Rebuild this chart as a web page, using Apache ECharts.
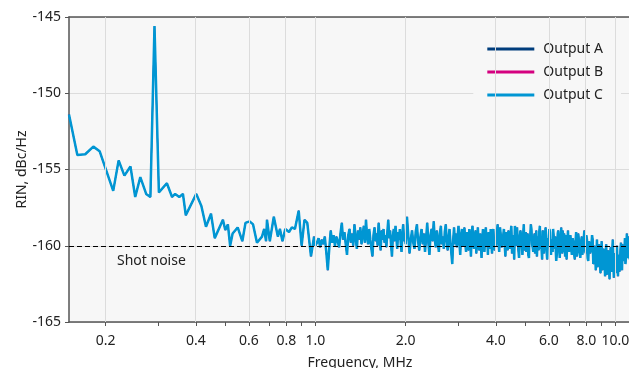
<!DOCTYPE html>
<html>
<head>
<meta charset="utf-8">
<script src="https://cdn.jsdelivr.net/npm/echarts@6/dist/echarts.min.js"></script>
<style>
  html, body { margin: 0; padding: 0; background: #fff; }
  #chart { width: 629px; height: 368px; }
</style>
</head>
<body>
<div id="chart"></div>
<script>
// frequency in MHz, RIN in dBc/Hz
const freqLow = [0.151, 0.161, 0.171, 0.182, 0.191, 0.212, 0.221, 0.231, 0.242, 0.251, 0.261, 0.273, 0.282, 0.291, 0.301, 0.320, 0.333, 0.341, 0.352, 0.362, 0.370, 0.401, 0.417, 0.432, 0.449, 0.462, 0.492, 0.501, 0.511, 0.520, 0.530, 0.551, 0.571, 0.585, 0.604, 0.620, 0.639, 0.664, 0.675, 0.685, 0.690, 0.705, 0.727, 0.750, 0.762, 0.777, 0.794, 0.817, 0.835, 0.855, 0.880, 0.900, 0.920, 0.940, 0.967, 0.990, 1.000];
const rinLow = [-151.4, -154.05, -154.0, -153.5, -153.8, -156.4, -154.4, -155.4, -154.8, -156.8, -155.5, -156.6, -156.8, -145.6, -156.5, -155.9, -156.8, -156.6, -156.8, -156.6, -158.0, -156.6, -157.4, -158.75, -157.9, -159.5, -158.3, -158.97, -158.6, -160.0, -159.2, -158.8, -159.7, -158.5, -158.4, -158.6, -159.8, -159.4, -158.9, -159.7, -158.3, -159.7, -158.1, -159.4, -158.9, -159.7, -158.9, -159.1, -158.8, -158.9, -157.7, -160.0, -158.3, -158.5, -160.7, -159.4, -160.0];

const freqBand1 = [1.0125, 1.025, 1.0375, 1.05, 1.0625, 1.075, 1.0875, 1.1, 1.1125, 1.125, 1.1375, 1.15, 1.1625, 1.175, 1.1875, 1.2, 1.2125, 1.225, 1.2375, 1.25, 1.2625, 1.275, 1.2875, 1.3, 1.3125, 1.325, 1.3375, 1.35, 1.3625, 1.375, 1.3875, 1.4, 1.4125, 1.425, 1.4375, 1.45, 1.4625, 1.475, 1.4875, 1.5, 1.5125, 1.525, 1.5375, 1.55, 1.5625, 1.575, 1.5875, 1.6, 1.6125, 1.625, 1.6375, 1.65, 1.6625, 1.675, 1.6875, 1.7, 1.7125, 1.725, 1.7375, 1.75, 1.7625, 1.775, 1.7875, 1.8, 1.8125, 1.825, 1.8375, 1.85, 1.8625, 1.875, 1.8875, 1.9, 1.9125, 1.925, 1.9375, 1.95, 1.9625, 1.975, 1.9875, 2.0];
const rinBand1 = [-159.8, -159.5, -160.1, -159.6, -159.9, -159.4, -160.4, -161.6, -160.2, -159.0, -159.8, -159.3, -160.0, -159.4, -159.7, -160.1, -159.2, -158.5, -159.6, -159.1, -159.9, -160.6, -159.3, -158.9, -159.8, -159.2, -160.0, -158.6, -159.5, -160.2, -159.0, -159.6, -158.8, -159.9, -159.3, -158.7, -159.8, -158.3, -159.4, -159.9, -158.9, -159.6, -160.2, -160.7, -159.3, -158.8, -159.7, -159.2, -160.0, -158.5, -159.4, -160.3, -159.0, -159.6, -158.9, -159.8, -159.3, -160.1, -159.1, -158.3, -159.5, -159.0, -159.9, -160.7, -159.4, -158.9, -159.7, -158.7, -159.5, -160.2, -159.1, -159.6, -158.9, -159.8, -160.4, -159.2, -158.6, -159.7, -159.3, -159.9];

const freqBand2 = [2.02, 2.04, 2.06, 2.08, 2.10, 2.12, 2.14, 2.16, 2.18, 2.20, 2.22, 2.24, 2.26, 2.28, 2.30, 2.32, 2.34, 2.36, 2.38, 2.40, 2.42, 2.44, 2.46, 2.48, 2.50, 2.52, 2.54, 2.56, 2.58, 2.60, 2.62, 2.64, 2.66, 2.68, 2.70, 2.72, 2.74, 2.76, 2.78, 2.80, 2.82, 2.84, 2.86, 2.88, 2.90, 2.92, 2.94, 2.96, 2.98, 3.00, 3.02, 3.04, 3.06, 3.08, 3.10, 3.12, 3.14, 3.16, 3.18, 3.20, 3.22, 3.24, 3.26, 3.28, 3.30, 3.32, 3.34, 3.36, 3.38, 3.40, 3.42, 3.44, 3.46, 3.48, 3.50, 3.52, 3.54, 3.56, 3.58, 3.60, 3.62, 3.64, 3.66, 3.68, 3.70, 3.72, 3.74, 3.76, 3.78, 3.80, 3.82, 3.84, 3.86, 3.88, 3.90, 3.92, 3.94, 3.96, 3.98, 4.00];
const rinBand2 = [-158.1, -159.3, -160.5, -159.6, -159.0, -159.8, -160.2, -159.1, -158.6, -159.7,
  -160.3, -159.4, -158.9, -159.9, -159.2, -160.4, -159.5, -158.5, -159.8, -160.6,
  -159.3, -158.9, -159.7, -158.4, -159.6, -160.1, -159.0, -159.8, -160.4, -159.2,
  -158.7, -159.9, -159.4, -160.2, -159.1, -158.6, -159.7, -160.3, -159.5, -158.9,
  -159.8, -160.5, -161.2, -159.6, -158.8, -159.9, -159.2, -160.1, -159.4, -158.7,
  -159.8, -160.6, -159.3, -158.9, -160.0, -159.5, -158.8, -159.9, -160.4, -159.1,
  -159.7, -160.3, -158.9, -159.6, -160.7, -159.2, -158.7, -159.8, -160.2, -159.4,
  -159.0, -160.5, -159.6, -158.8, -159.9, -160.3, -159.2, -159.7, -160.8, -159.5,
  -158.9, -159.8, -160.4, -159.3, -158.8, -160.0, -159.6, -160.6, -159.1, -159.7,
  -160.2, -158.9, -159.8, -160.5, -159.4, -158.9, -159.9, -160.3, -159.5, -160.0];

const freqBand3 = [4.05, 4.10, 4.15, 4.20, 4.25, 4.30, 4.35, 4.40, 4.45, 4.50, 4.55, 4.60, 4.65, 4.70, 4.75, 4.80, 4.85, 4.90, 4.95, 5.00, 5.05, 5.10, 5.15, 5.20, 5.25, 5.30, 5.35, 5.40, 5.45, 5.50, 5.55, 5.60, 5.65, 5.70, 5.75, 5.80, 5.85, 5.90, 5.95, 6.00, 6.05, 6.10, 6.15, 6.20, 6.25, 6.30, 6.35, 6.40, 6.45, 6.50, 6.55, 6.60, 6.65, 6.70, 6.75, 6.80, 6.85, 6.90, 6.95, 7.00];
const rinBand3 = [-158.6, -160.4, -159.3, -159.9, -158.9, -160.7, -159.5, -159.0, -160.2, -158.7, -159.8, -160.9, -159.4, -158.8, -160.3, -159.6, -159.1, -160.6, -158.6, -159.9, -160.4, -159.2, -160.8, -159.5, -158.9, -160.1, -159.7, -160.5, -159.0, -159.8, -160.3, -158.7, -159.6, -160.9, -159.3, -159.9, -158.8, -160.4, -159.5, -160.0, -159.1, -160.6, -159.7, -158.9, -160.2, -159.4, -161.0, -159.8, -159.0, -160.3, -159.6, -158.8, -160.5, -159.9, -159.2, -160.7, -159.5, -160.1, -159.0, -160.4];

const freqBand3b = [4.075, 4.125, 4.175, 4.225, 4.275, 4.325, 4.375, 4.425, 4.475, 4.525, 4.575, 4.625, 4.675, 4.725, 4.775, 4.825, 4.875, 4.925, 4.975, 5.025, 5.075, 5.125, 5.175, 5.225, 5.275, 5.325, 5.375, 5.425, 5.475, 5.525, 5.575, 5.625, 5.675, 5.725, 5.775, 5.825, 5.875, 5.925, 5.975, 6.025, 6.075, 6.125, 6.175, 6.225, 6.275, 6.325, 6.375, 6.425, 6.475, 6.525, 6.575, 6.625, 6.675, 6.725, 6.775, 6.825, 6.875, 6.925, 6.975];
const rinBand3b = [-159.7, -158.8, -160.1, -159.4, -159.9, -159.1, -160.3, -159.6, -159.2, -160.5,
  -159.3, -158.7, -160.0, -159.5, -160.8, -159.0, -159.8, -159.4, -160.3, -159.1,
  -159.7, -160.6, -159.3, -158.6, -159.9, -160.4, -159.2, -159.8, -160.7, -159.4,
  -159.1, -160.2, -159.6, -159.0, -160.5, -159.7, -159.3, -160.9, -159.5, -158.9,
  -160.3, -159.6, -160.4, -159.3, -160.0, -159.5, -160.6, -159.2, -159.9, -160.8,
  -159.4, -160.1, -159.0, -160.4, -159.7, -159.3, -160.9, -159.6, -160.2];

const freqBand4 = [7.08, 7.16, 7.24, 7.32, 7.40, 7.48, 7.56, 7.64, 7.72, 7.80, 7.88, 7.96, 8.04, 8.12, 8.20, 8.28, 8.36, 8.44, 8.52, 8.60, 8.68, 8.76, 8.84, 8.92, 9.00, 9.08, 9.16, 9.24, 9.32, 9.40, 9.48, 9.56, 9.64, 9.72, 9.80, 9.88, 9.96, 10.04, 10.12, 10.20, 10.28, 10.36, 10.44, 10.52, 10.60, 10.68, 10.76, 10.84, 10.92, 11.00, 11.08, 11.16, 11.24];
const rinBand4 = [-159.3, -160.6, -159.8, -160.9, -159.1, -160.3, -159.7, -160.8, -159.4, -160.1, -159.0, -160.5, -159.6, -161.0, -159.9, -160.4, -159.3, -161.2, -160.0, -161.6, -159.6, -160.9, -160.2, -161.8, -159.7, -161.3, -160.4, -162.0, -159.9, -161.5, -160.6, -162.2, -160.1, -161.7, -159.6, -162.1, -160.5, -161.4, -160.0, -162.0, -160.7, -161.2, -159.8, -161.6, -160.3, -161.0, -159.5, -160.8, -159.2, -160.6, -159.4, -160.9, -159.6];

const freqBand4b = [7.12, 7.20, 7.28, 7.36, 7.44, 7.52, 7.60, 7.68, 7.76, 7.84, 7.92, 8.00, 8.08, 8.16, 8.24, 8.32, 8.40, 8.48, 8.56, 8.64, 8.72, 8.80, 8.88, 8.96, 9.04, 9.12, 9.20, 9.28, 9.36, 9.44, 9.52, 9.60, 9.68, 9.76, 9.84, 9.92, 10.00, 10.08, 10.16, 10.24, 10.32, 10.40, 10.48, 10.56, 10.64, 10.72, 10.80, 10.88, 10.96, 11.04, 11.12, 11.20];
const rinBand4b = [-160.1, -159.5, -160.4, -159.8, -160.7, -159.2, -160.3, -159.9, -160.6, -159.6,
  -160.2, -159.3, -160.8, -159.7, -160.5, -160.0, -159.6, -160.9, -160.4, -160.8,
  -161.4, -159.9, -161.0, -160.5, -161.6, -160.2, -161.1, -160.6, -161.9, -160.3,
  -161.2, -160.8, -161.5, -160.4, -161.0, -160.7, -161.8, -160.3, -161.1, -160.6,
  -161.7, -160.2, -160.9, -159.9, -160.7, -160.3, -161.2, -160.0, -160.8, -159.7,
  -160.4, -160.1];

const seriesNames = ['Output A', 'Output B', 'Output C'];
const seriesColors = ['#003d7c', '#d4007f', '#0096d3'];
const xTickLabels = [0.2, 0.4, 0.6, 0.8, 1.0, 2.0, 4.0, 6.0, 8.0, 10.0];
const xMinorTicks = [0.3, 0.5, 0.7, 0.9, 3.0, 5.0, 7.0, 9.0];
const shotNoise = -160;
const xMin = 0.151;
const xMax = 11.1;

const freq = [].concat(freqLow, freqBand1, freqBand2, freqBand3, freqBand3b, freqBand4, freqBand4b);
const rin = [].concat(rinLow, rinBand1, rinBand2, rinBand3, rinBand3b, rinBand4, rinBand4b);
const points = freq.map((f, i) => [f, rin[i]])
  .sort((a, b) => a[0] - b[0])
  .map(p => [Math.log10(p[0]), p[1]]);

const font = 'Noto Sans';
const textColor = '#222';
const axisColor = '#555';
const gridColor = '#dcdcdc';

const chart = echarts.init(document.getElementById('chart'));

const lineSeries = seriesNames.map((name, i) => {
  const s = {
    name: name,
    type: 'line',
    data: points,
    symbol: 'none',
    color: seriesColors[i],
    lineStyle: {width: i === 2 ? 2.5 : 1.2, color: seriesColors[i]},
    z: 3,
    animation: false
  };
  if (i === 2) {
    s.markLine = {
      silent: true,
      symbol: 'none',
      animation: false,
      lineStyle: {color: '#000', type: [5, 3], width: 1},
      label: {
        show: true,
        position: 'insideStartBottom',
        formatter: 'Shot noise',
        color: textColor,
        fontFamily: font,
        fontSize: 14,
        padding: [3, 0, 0, 43]
      },
      data: [{yAxis: shotNoise}]
    };
  }
  return s;
});

chart.setOption({
  backgroundColor: '#fff',
  animation: false,
  grid: {
    left: 69, right: 0, top: 17, bottom: 46,
    outerBoundsMode: 'none',
    show: true, backgroundColor: '#f7f7f7', borderWidth: 0
  },
  legend: {
    data: seriesNames,
    orient: 'vertical',
    right: 8,
    top: 28,
    padding: [14, 18, 13, 14],
    itemGap: 9,
    icon: 'rect',
    itemWidth: 47,
    itemHeight: 3,
    backgroundColor: '#f7f7f7',
    textStyle: {color: textColor, fontFamily: font, fontSize: 14, lineHeight: 14, padding: [0, 0, 0, 4]}
  },
  xAxis: [
    {
      type: 'value',
      min: Math.log10(xMin),
      max: Math.log10(xMax),
      name: 'Frequency, MHz',
      nameLocation: 'middle',
      nameGap: 34,
      nameMoveOverlap: false,
      nameTextStyle: {color: textColor, fontFamily: font, fontSize: 14, padding: [0, 0, 0, 22]},
      axisLine: {onZero: false, lineStyle: {color: axisColor, width: 1.5}},
      axisTick: {
        length: 4,
        lineStyle: {color: axisColor},
        customValues: xTickLabels.concat(xMinorTicks).map(Math.log10)
      },
      axisLabel: {
        color: textColor, fontFamily: font, fontSize: 14, margin: 12,
        customValues: xTickLabels.map(Math.log10),
        formatter: v => Math.pow(10, v).toFixed(1)
      },
      splitLine: {show: false}
    },
    {
      type: 'value',
      position: 'top',
      min: Math.log10(xMin),
      max: Math.log10(xMax),
      axisLine: {show: true, onZero: false, lineStyle: {color: axisColor, width: 1.5}},
      axisTick: {show: false},
      axisLabel: {show: false},
      splitLine: {show: false}
    }
  ],
  yAxis: {
    type: 'value',
    min: -165,
    max: -145,
    interval: 5,
    name: 'RIN, dBc/Hz',
    nameLocation: 'middle',
    nameGap: 40,
    nameMoveOverlap: false,
    nameTextStyle: {color: textColor, fontFamily: font, fontSize: 14},
    axisLine: {show: true, onZero: false, lineStyle: {color: axisColor, width: 1.5}},
    axisTick: {show: true, length: 4, lineStyle: {color: axisColor}},
    axisLabel: {color: textColor, fontFamily: font, fontSize: 14, margin: 8},
    splitLine: {show: true, lineStyle: {color: gridColor, width: 1}}
  },
  series: [
    {
      name: 'grid',
      type: 'line',
      data: [],
      z: 1,
      silent: true,
      markLine: {
        silent: true,
        symbol: 'none',
        animation: false,
        label: {show: false},
        lineStyle: {color: gridColor, type: 'solid', width: 1},
        data: xTickLabels.map(v => ({xAxis: Math.log10(v)}))
      }
    }
  ].concat(lineSeries)
});
</script>
</body>
</html>
